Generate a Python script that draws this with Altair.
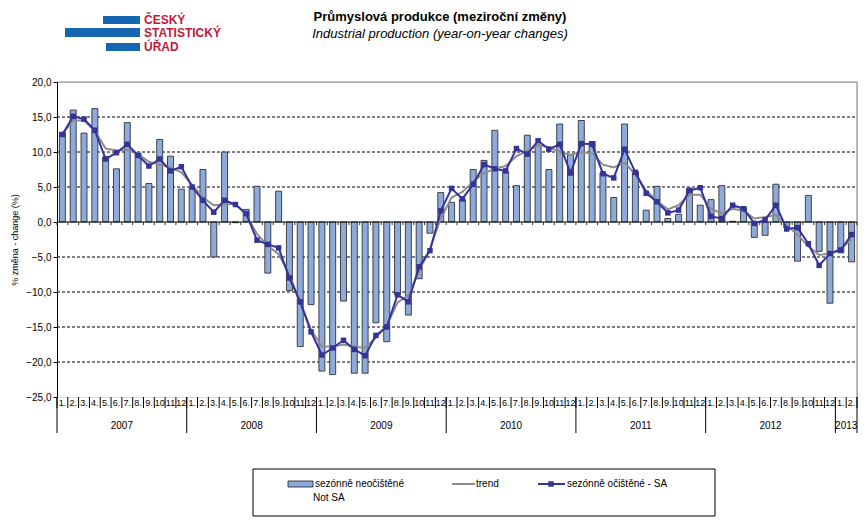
import altair as alt
import pandas as pd

# ---------------- data ----------------
years = ["2007", "2008", "2009", "2010", "2011", "2012", "2013"]
month_labels = ["1.", "2.", "3.", "4.", "5.", "6.", "7.", "8.", "9.", "10", "11", "12"]

not_sa = [
    12.8, 16.0, 12.7, 16.2, 9.3, 7.6, 14.2, 9.8, 5.5, 11.8, 9.4, 4.7,
    4.8, 7.5, -5.0, 10.0, -0.1, 1.8, 5.1, -7.3, 4.4, -9.8, -17.8, -11.8,
    -21.3, -21.8, -11.3, -21.6, -21.6, -14.4, -17.1, -10.4, -13.3, -8.1, -1.6, 4.2,
    2.8, 3.2, 7.5, 8.8, 13.1, 7.2, 5.2, 12.4, 11.0, 7.5, 14.0, 9.6,
    14.5, 11.5, 7.0, 3.5, 14.0, 7.2, 1.7, 5.1, 0.5, 1.1, 4.8, 2.4,
    3.2, 5.2, 0.1, 2.1, -2.2, -1.9, 5.4, -0.8, -5.6, 3.8, -4.2, -11.6,
    -4.4, -5.7,
]
sa = [
    12.5, 15.1, 14.7, 13.1, 9.0, 9.9, 11.1, 9.5, 8.0, 9.0, 7.3, 7.9,
    5.0, 3.1, 1.4, 3.1, 2.5, 1.2, -2.6, -3.2, -3.7, -8.0, -11.4, -15.7,
    -19.0, -18.0, -16.9, -18.2, -19.1, -16.2, -15.0, -10.4, -11.4, -6.4, -4.1, 1.6,
    4.8, 3.3, 5.4, 8.2, 7.6, 7.3, 10.5, 9.7, 11.6, 10.4, 11.1, 7.0,
    11.2, 11.1, 6.9, 6.3, 10.4, 7.1, 4.1, 2.9, 1.3, 1.7, 4.5, 4.9,
    0.8, 0.5, 2.4, 1.9, -0.2, 0.3, 2.4, -1.0, -0.8, -3.1, -6.2, -4.5,
    -4.0, -1.8,
]
trend = [
    12.6, 14.5, 14.5, 13.0, 10.5, 10.2, 10.3, 9.7, 8.6, 8.2, 7.8, 7.1,
    5.3, 3.5, 2.4, 2.5, 2.6, 1.0, -1.7, -3.4, -4.6, -7.5, -11.5, -15.4,
    -17.8, -17.8, -17.5, -17.8, -18.0, -16.5, -14.8, -11.5, -10.5, -7.0, -3.8, 0.5,
    3.5, 4.3, 5.8, 7.0, 7.6, 8.0, 9.4, 10.2, 11.0, 10.7, 10.0, 9.6,
    10.0, 9.8, 8.2, 7.8, 8.5, 6.8, 4.5, 3.0, 1.8, 2.4, 3.9, 3.9,
    1.9, 1.2, 1.9, 1.6, 0.5, 0.7, 1.0, -0.5, -1.8, -3.5, -4.7, -4.5,
    -3.8, -2.5,
]
y_ticks = [20, 15, 10, 5, 0, -5, -10, -15, -20, -25]
grid_vals = [15, 10, 5, -5, -10, -15, -20]

n = len(not_sa)
df = pd.DataFrame({
    "x": [i + 0.5 for i in range(n)],
    "notsa": not_sa,
    "sa": sa,
    "trend": trend,
    "zero": [0.0] * n,
    "mlabel": [month_labels[i % 12] for i in range(n)],
})
bounds = pd.DataFrame({"b": list(range(n + 1)), "t0": [0.0] * (n + 1), "t1": [-0.45] * (n + 1)})
year_bounds = pd.DataFrame({"b": [0, 12, 24, 36, 48, 60, 72, 74]})
year_df = pd.DataFrame({"x": [6, 18, 30, 42, 54, 66, 73], "year": years})
grid_df = pd.DataFrame({"g": grid_vals})
top_df = pd.DataFrame({"h": [20]})
zero_df = pd.DataFrame({"h": [0]})
vline_df = pd.DataFrame({"v": [n]})
one = pd.DataFrame({"a": [0]})

W, H = 800, 315
FONT = "Liberation Sans"
xs = alt.Scale(domain=[0, n], nice=False, zero=False, padding=0)
ys = alt.Scale(domain=[-25, 20], nice=False, zero=False)
YAX = alt.Axis(
    values=y_ticks, labelExpr="replace(format(datum.value, '.1f'), '.', ',')",
    title="% změna - change (%)", titleFontSize=9, titleFontWeight="normal",
    titleFont=FONT, titleColor="black", titlePadding=6,
    labelFont=FONT, labelFontSize=10, labelColor="black",
    domainColor="black", tickColor="black", tickSize=4, grid=False)


def X(f):
    return alt.X(f, scale=xs, axis=None)


def Y(f):
    return alt.Y(f, scale=ys, axis=YAX)


grid = alt.Chart(grid_df).mark_rule(color="black", strokeDash=[3, 2], strokeWidth=1).encode(
    y=Y("g:Q"), x=alt.value(0), x2=alt.value(W))

top_border = alt.Chart(top_df).mark_rule(color="#808080", strokeWidth=1).encode(
    y=Y("h:Q"), x=alt.value(0), x2=alt.value(W))
right_border = alt.Chart(vline_df).mark_rule(color="#808080", strokeWidth=1).encode(
    x=X("v:Q"), y=alt.value(0), y2=alt.value(H))

bars = alt.Chart(df).mark_bar(size=6, color="#8eaadb", stroke="#202020", strokeWidth=0.8).encode(
    x=X("x:Q"), y=Y("notsa:Q"), y2="zero:Q")

zero_line = alt.Chart(zero_df).mark_rule(color="black", strokeWidth=1).encode(
    y=Y("h:Q"), x=alt.value(0), x2=alt.value(W))
zero_ticks = alt.Chart(bounds).mark_rule(color="black", strokeWidth=0.8).encode(
    x=X("b:Q"), y=Y("t0:Q"), y2="t1:Q")

trend_line = alt.Chart(df).mark_line(color="#8c8c8c", strokeWidth=2).encode(
    x=X("x:Q"), y=Y("trend:Q"))
sa_line = alt.Chart(df).mark_line(color="#333399", strokeWidth=2).encode(
    x=X("x:Q"), y=Y("sa:Q"))
sa_pts = alt.Chart(df).mark_point(shape="square", filled=True, size=30, color="#333399", opacity=1).encode(
    x=X("x:Q"), y=Y("sa:Q"))

# category axis (months / years)
month_seps = alt.Chart(bounds).mark_rule(color="black", strokeWidth=1).encode(
    x=X("b:Q"), y=alt.value(H), y2=alt.value(H + 11))
year_seps = alt.Chart(year_bounds).mark_rule(color="black", strokeWidth=1).encode(
    x=X("b:Q"), y=alt.value(H), y2=alt.value(H + 36))
month_txt = alt.Chart(df).mark_text(font=FONT, fontSize=9, color="black").encode(
    x=X("x:Q"), y=alt.value(H + 6), text="mlabel:N")
year_txt = alt.Chart(year_df).mark_text(font=FONT, fontSize=10, color="black").encode(
    x=X("x:Q"), y=alt.value(H + 29), text="year:N")

# titles
t1 = alt.Chart(one).mark_text(text="Průmyslová produkce (meziroční změny)", font=FONT, fontSize=13,
                              fontWeight="bold", color="black").encode(x=alt.value(383), y=alt.value(-65))
t2 = alt.Chart(one).mark_text(text="Industrial production (year-on-year changes)", font=FONT, fontSize=13,
                              fontStyle="italic", color="black").encode(x=alt.value(383), y=alt.value(-48))

# logo
LB = "#1565b0"
LR = "#c0183c"
logo_b1 = alt.Chart(one).mark_rect(color=LB).encode(x=alt.value(46), x2=alt.value(83), y=alt.value(-66), y2=alt.value(-58))
logo_b2 = alt.Chart(one).mark_rect(color=LB).encode(x=alt.value(8), x2=alt.value(83), y=alt.value(-54), y2=alt.value(-45))
logo_b3 = alt.Chart(one).mark_rect(color=LB).encode(x=alt.value(49), x2=alt.value(83), y=alt.value(-39), y2=alt.value(-31))
logo_t = [
    alt.Chart(one).mark_text(text=s, font=FONT, fontSize=12, fontWeight="bold", color=LR, align="left").encode(
        x=alt.value(87), y=alt.value(yy))
    for s, yy in [("ČESKÝ", -62), ("STATISTICKÝ", -49), ("ÚŘAD", -35)]
]

# legend
leg_box = alt.Chart(one).mark_rect(fill="white", stroke="black", strokeWidth=1).encode(
    x=alt.value(196), x2=alt.value(658), y=alt.value(387), y2=alt.value(434))
leg_sw = alt.Chart(one).mark_rect(color="#8eaadb", stroke="#202020", strokeWidth=0.8).encode(
    x=alt.value(231), x2=alt.value(256), y=alt.value(399), y2=alt.value(405))
leg_tr = alt.Chart(one).mark_rule(color="#8c8c8c", strokeWidth=2).encode(
    x=alt.value(395), x2=alt.value(418), y=alt.value(402))
leg_sa = alt.Chart(one).mark_rule(color="#333399", strokeWidth=2).encode(
    x=alt.value(481), x2=alt.value(508), y=alt.value(402))
leg_sap = alt.Chart(one).mark_point(shape="square", filled=True, size=30, color="#333399", opacity=1).encode(
    x=alt.value(494), y=alt.value(402))
leg_txt = [
    alt.Chart(one).mark_text(text=s, font=FONT, fontSize=10, color="black", align="left").encode(
        x=alt.value(xx), y=alt.value(yy))
    for s, xx, yy in [("sezónně neočištěné", 258, 402), ("Not SA", 256, 416),
                      ("trend", 419, 402), ("sezónně očištěné - SA", 510, 402)]
]

chart = alt.layer(
    grid, top_border, right_border, bars, zero_line, zero_ticks, trend_line, sa_line, sa_pts,
    month_seps, year_seps, month_txt, year_txt, t1, t2, logo_b1, logo_b2, logo_b3, *logo_t,
    leg_box, leg_sw, leg_tr, leg_sa, leg_sap, *leg_txt,
).properties(
    width=W, height=H,
    autosize=alt.AutoSizeParams(type="none"),
    padding={"left": 49, "top": 74, "right": 1, "bottom": 120},
).configure_view(stroke=None).configure(background="white")

chart.save("out.html", embed_options={"renderer": "svg", "actions": False})
